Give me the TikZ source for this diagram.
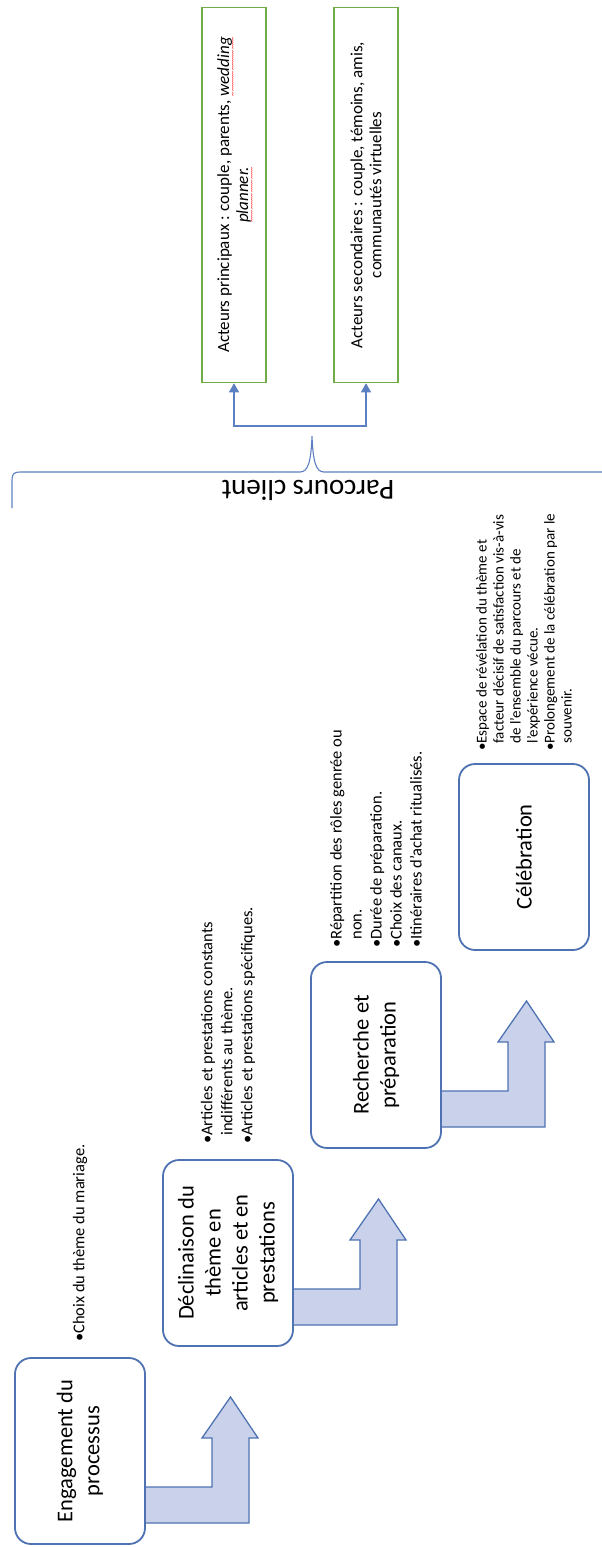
\documentclass[tikz,border=0pt]{standalone}
\usepackage{fontspec}
\setmainfont{Carlito}
\usetikzlibrary{arrows.meta, positioning, calc}

\definecolor{stepblue}{RGB}{79,114,178}
\definecolor{arrowfill}{RGB}{201,210,234}
\definecolor{actgreen}{RGB}{112,173,71}
\definecolor{linkblue}{RGB}{91,127,192}

% bullet and hanging indent
\newcommand{\itm}{\makebox[0.5em][l]{\textbullet}}
\newcommand{\ind}{\hspace*{0.5em}}
% red squiggle under a word
\newcommand{\spell}[1]{\leavevmode\setbox0\hbox{#1}%
  \rlap{\raisebox{-6pt}[0pt][0pt]{\color{red}\fontsize{8}{8}\selectfont
  \hbox to \wd0{\xleaders\hbox{\textasciitilde}\hfil}}}\box0}

\tikzset{
  stage/.style={draw=stepblue, line width=1.8pt, fill=white, rounded corners=16pt,
    minimum width=186pt, minimum height=130pt, rotate=90, align=center,
    font=\fontsize{22.5}{27}\selectfont},
  notes/.style={rotate=90, anchor=west, align=left, inner sep=0pt,
    font=\fontsize{16.5}{20}\selectfont},
  bentarrow/.style={draw=stepblue, line width=1.3pt, fill=arrowfill, line join=miter},
  actor/.style={draw=actgreen, line width=1.6pt, fill=white, rotate=90, align=center,
    minimum width=375pt, minimum height=64pt, font=\fontsize{17}{19}\selectfont},
  link/.style={draw=linkblue, line width=1.1pt, -{Triangle[length=9pt, width=10pt]}},
  brace/.style={draw=linkblue, line width=1.1pt}
}

\begin{document}
\begin{tikzpicture}[x=1pt, y=-1pt]
    \useasboundingbox (0,0) rectangle (602,1547);

    % Bent arrows between the steps
    \foreach \k in {0,1,2}{
      \pgfmathsetmacro{\R}{145+148*\k}
      \pgfmathsetmacro{\T}{1358-198*\k}
      \draw[bentarrow] (\R-6,\T+129) -- (\R+67,\T+129) -- (\R+67,\T+80) -- (\R+57,\T+80)
        -- (\R+85.5,\T+39) -- (\R+113,\T+80) -- (\R+104,\T+80) -- (\R+104,\T+165)
        -- (\R-6,\T+165) -- cycle;
    }

    % Steps
    \node[stage] (s1) at (80,1451) {Engagement du\\processus};
    \node[stage] (s2) at (228,1253) {Déclinaison du\\thème en\\articles et en\\prestations};
    \node[stage] (s3) at (376,1055) {Recherche et\\préparation};
    \node[stage] (s4) at (524,857) {Célébration};

    % Notes above each step
    \node[notes] (n1) at (80,1342) {\itm Choix du thème du mariage.};
    \node[notes] (n2) at (228,1144) {\itm Articles et prestations constants\\
      \ind indifférents au thème.\\
      \itm Articles et prestations spécifiques.};
    \node[notes] (n3) at (376,948) {\itm Répartition des rôles genrée ou\\
      \ind non.\\
      \itm Durée de préparation.\\
      \itm Choix des canaux.\\
      \itm Itinéraires d’achat ritualisés.};
    \node[notes, font=\fontsize{15}{17}\selectfont] (n4) at (524,751) {\itm Espace de révélation du thème et\\
      \ind facteur décisif de satisfaction vis-à-vis\\
      \ind de l’ensemble du parcours et de\\
      \ind l’expérience vécue.\\
      \itm Prolongement de la célébration par le\\
      \ind souvenir.};

    % Brace
    \coordinate (tip) at (312,436);
    \draw[brace] (12,508) -- (12,480) .. controls (12,474) and (14,472) .. (20,472) -- (300,472)
      .. controls (308,472) and (311,462) .. (tip)
      .. controls (313,462) and (316,472) .. (324,472) -- (604,472);
    \node[rotate=180, anchor=south, inner sep=0pt, font=\fontsize{29}{34}\selectfont] (parc)
      at (308,480) {Parcours client};

    % Actors
    \node[actor] (act1) at (234,195) {Acteurs principaux : couple, parents, \spell{\textit{wedding}}\\
      \spell{\textit{planner.}}};
    \node[actor] (act2) at (366,195) {Acteurs secondaires : couple, témoins, amis,\\
      communautés virtuelles};
    \coordinate (hub) at (312,426);
    \draw[link] (hub) -| (act1.west);
    \draw[link] (hub) -| (act2.west);
\end{tikzpicture}
\end{document}
